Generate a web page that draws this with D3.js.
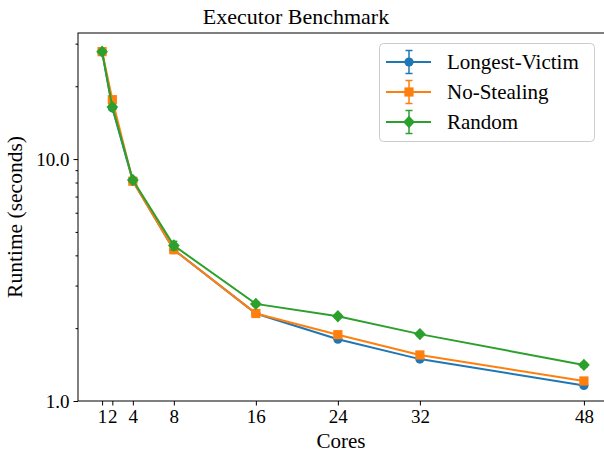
<!DOCTYPE html>
<html>
<head>
<meta charset="utf-8">
<script src="https://cdn.jsdelivr.net/npm/d3@7"></script>
<style>
  html, body { margin: 0; padding: 0; background: #fff; }
  svg { display: block; }
</style>
</head>
<body>
<svg id="chart" width="604" height="458"></svg>
<script>
// Benchmark results: runtime (seconds) per core count for each scheduling strategy
const cores = [1, 2, 4, 8, 16, 24, 32, 48];
const seriesNames = ["Longest-Victim", "No-Stealing", "Random"];
const longestVictim = [27.8, 16.3, 8.1, 4.22, 2.30, 1.80, 1.49, 1.16];
const noStealing    = [27.8, 17.6, 8.1, 4.22, 2.30, 1.88, 1.55, 1.21];
const random        = [27.8, 16.4, 8.2, 4.39, 2.52, 2.24, 1.89, 1.41];
const longestVictimErr = [0.4, 0.3, 0.12, 0.06, 0.03, 0.02, 0.02, 0.02];
const noStealingErr    = [0.4, 0.5, 0.12, 0.06, 0.03, 0.04, 0.03, 0.03];
const randomErr        = [0.4, 0.4, 0.15, 0.18, 0.05, 0.04, 0.03, 0.03];
const xTickValues = [1, 2, 4, 8, 16, 24, 32, 48];
const yMajorTicks = [1, 10];
const yMinorTicks = [2, 3, 4, 5, 6, 7, 8, 9, 20, 30];
const colors = ["#1f77b4", "#ff7f0e", "#2ca02c"];
const markerTypes = ["circle", "square", "diamond"];

const seriesValues = [longestVictim, noStealing, random];
const seriesErrs = [longestVictimErr, noStealingErr, randomErr];

const FONT = '"Liberation Serif", "Times New Roman", serif';

const svg = d3.select("#chart");
const plot = { left: 78, right: 608, top: 33, bottom: 401 };

const x = d3.scaleLinear().domain([-1.35, 50.35]).range([plot.left, plot.right]);
const y = d3.scaleLog().domain([1, 33.2]).range([plot.bottom, plot.top]);

// Title
svg.append("text")
  .attr("x", 296).attr("y", 24)
  .attr("text-anchor", "middle")
  .style("font-family", FONT)
  .style("font-size", "22px")
  .text("Executor Benchmark");

// Axes
const xAxis = d3.axisBottom(x).tickValues(xTickValues).tickSize(4.5).tickPadding(4)
  .tickFormat(d3.format("d"));
const gx = svg.append("g").attr("transform", `translate(0,${plot.bottom})`).call(xAxis);
gx.select(".domain").remove();
gx.selectAll("text").style("font-family", FONT).style("font-size", "19px").attr("fill", "#000");
gx.selectAll("line").attr("stroke", "#000").attr("stroke-width", 1);

const yAxis = d3.axisLeft(y).tickValues(yMajorTicks).tickSize(4.5).tickPadding(4)
  .tickFormat(d3.format(".1f"));
const gy = svg.append("g").attr("transform", `translate(${plot.left},0)`).call(yAxis);
gy.select(".domain").remove();
gy.selectAll("text").style("font-family", FONT).style("font-size", "19px").attr("fill", "#000");

const yMinor = d3.axisLeft(y).tickValues(yMinorTicks).tickSize(2.5).tickFormat("");
const gym = svg.append("g").attr("transform", `translate(${plot.left},0)`).call(yMinor);
gym.select(".domain").remove();

// Frame
svg.append("rect")
  .attr("x", plot.left).attr("y", plot.top)
  .attr("width", plot.right - plot.left).attr("height", plot.bottom - plot.top)
  .attr("fill", "none").attr("stroke", "#000").attr("stroke-width", 1);

// Axis labels
svg.append("text")
  .attr("x", 341).attr("y", 448)
  .attr("text-anchor", "middle")
  .style("font-family", FONT)
  .style("font-size", "21px")
  .text("Cores");

svg.append("text")
  .attr("transform", `translate(22,${(plot.top + plot.bottom) / 2}) rotate(-90)`)
  .attr("text-anchor", "middle")
  .style("font-family", FONT)
  .style("font-size", "21.5px")
  .text("Runtime (seconds)");

// Marker drawing helper
function drawMarker(g, type, cx, cy, color) {
  if (type === "circle") {
    g.append("circle").attr("cx", cx).attr("cy", cy).attr("r", 4.6).attr("fill", color);
  } else if (type === "square") {
    g.append("rect").attr("x", cx - 4.6).attr("y", cy - 4.6).attr("width", 9.2).attr("height", 9.2)
      .attr("fill", color);
  } else {
    const s = 6.2;
    g.append("path").attr("d", `M${cx},${cy - s}L${cx + s * 0.95},${cy}L${cx},${cy + s}L${cx - s * 0.95},${cy}Z`)
      .attr("fill", color);
  }
}

svg.append("defs").append("clipPath").attr("id", "plotclip")
  .append("rect").attr("x", plot.left).attr("y", plot.top - 10)
  .attr("width", plot.right - plot.left).attr("height", plot.bottom - plot.top + 20);

const line = d3.line().x(d => x(d[0])).y(d => y(d[1]));

seriesValues.forEach((vals, i) => {
  const g = svg.append("g").attr("clip-path", "url(#plotclip)");
  const pts = cores.map((c, j) => [c, vals[j], seriesErrs[i][j]]);
  g.append("path").datum(pts)
    .attr("d", line).attr("fill", "none")
    .attr("stroke", colors[i]).attr("stroke-width", 2);
  // error bars with caps
  pts.forEach(p => {
    const xp = x(p[0]);
    const y0 = y(p[1] - p[2]), y1 = y(p[1] + p[2]);
    g.append("line").attr("x1", xp).attr("x2", xp).attr("y1", y0).attr("y2", y1)
      .attr("stroke", colors[i]).attr("stroke-width", 1.5);
    [y0, y1].forEach(yy => g.append("line").attr("x1", xp - 3.5).attr("x2", xp + 3.5)
      .attr("y1", yy).attr("y2", yy).attr("stroke", colors[i]).attr("stroke-width", 1.5));
  });
  pts.forEach(p => drawMarker(g, markerTypes[i], x(p[0]), y(p[1]), colors[i]));
});

// Legend
const legend = svg.append("g");
legend.append("rect")
  .attr("x", 379.5).attr("y", 43.5).attr("width", 215).attr("height", 98)
  .attr("rx", 4).attr("fill", "#fff").attr("fill-opacity", 0.8)
  .attr("stroke", "#ccc").attr("stroke-width", 1);
seriesNames.forEach((name, i) => {
  const cy = 62 + i * 30;
  const g = legend.append("g");
  g.append("line").attr("x1", 386).attr("x2", 431).attr("y1", cy).attr("y2", cy)
    .attr("stroke", colors[i]).attr("stroke-width", 2);
  g.append("line").attr("x1", 409).attr("x2", 409).attr("y1", cy - 11.5).attr("y2", cy + 11.5)
    .attr("stroke", colors[i]).attr("stroke-width", 1.5);
  [cy - 11.5, cy + 11.5].forEach(yy => g.append("line").attr("x1", 405.5).attr("x2", 412.5)
    .attr("y1", yy).attr("y2", yy).attr("stroke", colors[i]).attr("stroke-width", 1.5));
  drawMarker(g, markerTypes[i], 409, cy, colors[i]);
  g.append("text").attr("x", 447).attr("y", cy + 7)
    .style("font-family", FONT)
    .style("font-size", "21px").text(name);
});
</script>
</body>
</html>
